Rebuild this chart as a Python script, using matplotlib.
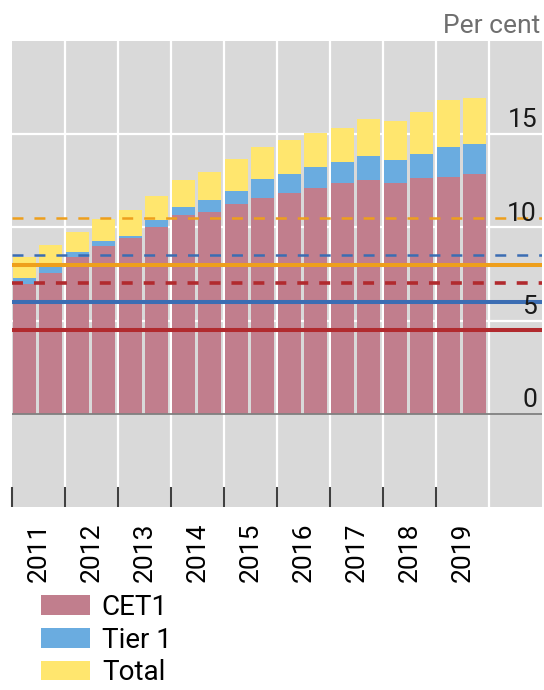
import matplotlib
matplotlib.use("Agg")
import matplotlib.pyplot as plt
from matplotlib.patches import Patch
import numpy as np

# ---- data ----
years = ['2011', '2012', '2013', '2014', '2015', '2016', '2017', '2018', '2019']
# half-yearly observations, cumulative ratios (per cent)
cet1 = [6.97, 7.57, 8.40, 9.00, 9.43, 10.04, 10.66, 10.80, 11.27,
        11.60, 11.82, 12.10, 12.37, 12.56, 12.37, 12.64, 12.71, 12.85]
tier1 = [7.30, 7.87, 8.69, 9.29, 9.56, 10.39, 11.12, 11.46, 11.96,
         12.58, 12.85, 13.26, 13.53, 13.81, 13.60, 13.93, 14.29, 14.49]
total = [8.40, 9.08, 9.75, 10.43, 10.93, 11.69, 12.56, 12.97, 13.67,
         14.34, 14.68, 15.09, 15.31, 15.79, 15.71, 16.19, 16.82, 16.94]
# regulatory requirements: minimum (solid) and incl. buffer (dashed)
req_min = {'CET1': 4.5, 'Tier 1': 6.0, 'Total': 8.0}
req_buffer = {'CET1': 7.0, 'Tier 1': 8.5, 'Total': 10.5}
yticks = [0, 5, 10, 15]
series_labels = ['CET1', 'Tier 1', 'Total']

# ---- style ----
plt.rcParams['font.family'] = ['Roboto', 'DejaVu Sans']
plt.rcParams['lines.scale_dashes'] = False
FS = 19
col_cet1 = '#C17E8D'
col_t1 = '#6AACE0'
col_tot = '#FFE66E'
line_cols = {'CET1': '#B12A2E', 'Tier 1': '#3B6DB3', 'Total': '#EE9F1C'}
bg = '#D9D9D9'

fig = plt.figure(figsize=(5.44, 6.90), dpi=100)
ax = fig.add_axes([12/544, 1 - 507/690, 530/544, 466/690])
ax.set_facecolor(bg)
for s in ax.spines.values():
    s.set_visible(False)

n = len(cet1)
x = np.arange(n) + 0.46
cet1_a = np.array(cet1)
t1_a = np.array(tier1)
tot_a = np.array(total)
w = 0.86
ax.bar(x, cet1_a, width=w, color=col_cet1, zorder=2, linewidth=0)
ax.bar(x, t1_a - cet1_a, bottom=cet1_a, width=w, color=col_t1, zorder=2, linewidth=0)
ax.bar(x, tot_a - t1_a, bottom=t1_a, width=w, color=col_tot, zorder=2, linewidth=0)

ax.set_xlim(0, 20)
ax.set_ylim(-5, 20)

# grid
for v in yticks[1:]:
    ax.axhline(v, color='white', lw=1.6, zorder=1)
for k in range(1, len(years) + 1):
    ax.axvline(2 * k, color='white', lw=1.6, zorder=1)
ax.axhline(0, color='#808080', lw=1.3, zorder=3)

# requirement lines
for key in series_labels:
    lwm = 2.9
    ax.axhline(req_min[key], color=line_cols[key], lw=lwm, zorder=4,
               solid_capstyle='butt')
    lwd = 2.6 if key == 'CET1' else 1.8
    ax.axhline(req_buffer[key], color=line_cols[key], lw=lwd, zorder=4,
               linestyle=(0, (7.9, 7.9)), dash_capstyle='butt')

# x ticks: boundaries (major, inward), labels at year centres (minor)
ax.set_xticks([2 * k for k in range(len(years))])
ax.set_xticklabels([])
ax.tick_params(axis='x', which='major', direction='in', length=14.4, width=1.5,
               color='#404040')
ax.set_xticks([2 * k + 1 for k in range(len(years))], minor=True)
ax.set_xticklabels(years, minor=True, rotation=90, fontsize=FS, va='top', ha='center')
ax.tick_params(axis='x', which='minor', length=0, pad=11.5)
ax.set_yticks([])

# y tick labels inside right
for v in yticks:
    ax.text(0.9906, v + 0.37, str(v), transform=ax.get_yaxis_transform(),
            ha='right', va='baseline', fontsize=FS, color='#1A1A1A', zorder=6)

fig.text(540/544, 1 - 33/690, 'Per cent', ha='right', va='baseline',
         fontsize=FS, color='#6F6F6F')

handles = [Patch(facecolor=c, edgecolor='none') for c in (col_cet1, col_t1, col_tot)]
fig.legend(handles, series_labels, loc='upper left',
           bbox_to_anchor=(41/544, 1 - 594/690), frameon=False, fontsize=20,
           borderpad=0, borderaxespad=0, handlelength=1.77, handleheight=0.72,
           handletextpad=0.42, labelspacing=0.2)

fig.savefig('out.png', dpi=100)
